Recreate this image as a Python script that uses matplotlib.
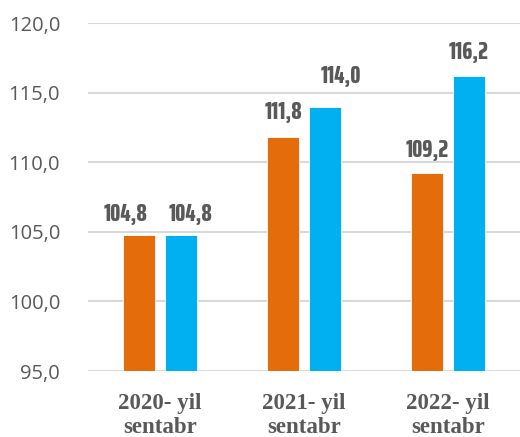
import matplotlib
matplotlib.use("Agg")
import matplotlib.pyplot as plt
from matplotlib import font_manager as fm
import numpy as np

categories = ["2020- yil\nsentabr", "2021- yil\nsentabr", "2022- yil\nsentabr"]
series_a = [104.8, 111.8, 109.2]
series_b = [104.8, 114.0, 116.2]
yticks = [95.0, 100.0, 105.0, 110.0, 115.0, 120.0]

# label placement (pixel offsets from bar top centre), as in the reference
label_dx_a = [-14, 0, 0]
label_dy_a = [14, 18, 16]
label_dx_b = [10, 16, 0]
label_dy_b = [14, 24, 17]


def find_condensed_bold():
    cands = []
    for f in fm.fontManager.ttflist:
        fn = f.fname.lower()
        nm = f.name.lower()
        narrow = ("condensed" in fn or "narrow" in fn or "condensed" in nm or "narrow" in nm
                  or f.stretch in ("condensed", "semi-condensed", "extra-condensed", "ultra-condensed"))
        w = f.weight if isinstance(f.weight, int) else (700 if "bold" in str(f.weight) else 400)
        if narrow and w >= 600 and "oblique" not in fn and "italic" not in fn:
            score = 0
            if "extra" in fn or "ultra" in fn:
                score += 1
            if "semi" in fn:
                score -= 1
            if "liberation" in fn:
                score += 3
            cands.append((score, f.fname))
    if cands:
        cands.sort(reverse=True)
        return fm.FontProperties(fname=cands[0][1]), True
    return fm.FontProperties(family="Roboto", weight="bold"), False


lab_fp, found = find_condensed_bold()
lab_fp.set_size(18.5 if found else 13.5)

fig = plt.figure(figsize=(5.2, 4.37), dpi=100)
ax = fig.add_axes([0.169, 0.151, 0.831, 0.796])

x = np.arange(len(categories))
off = 0.1435
w = 0.222
c_a = "#E46C0A"
c_b = "#00B0F0"
ba = ax.bar(x - off, series_a, w, bottom=0, color=c_a, edgecolor="white", linewidth=0.6, zorder=3)
bb = ax.bar(x + off, series_b, w, bottom=0, color=c_b, edgecolor="white", linewidth=0.6, zorder=3)

for bars, vals, dxs, dys in ((ba, series_a, label_dx_a, label_dy_a),
                             (bb, series_b, label_dx_b, label_dy_b)):
    for r, v, dx, dy in zip(bars, vals, dxs, dys):
        ax.annotate(f"{v:.1f}".replace(".", ","), (r.get_x() + r.get_width() / 2, v),
                    xytext=(dx, dy), textcoords="offset pixels", ha="center", va="baseline",
                    fontproperties=lab_fp, color="#595959",
                    annotation_clip=False, zorder=5)

ax.set_xlim(-0.5, 2.5)
ax.set_ylim(95, 120)
ax.set_yticks(yticks)
ax.set_yticklabels([f"{t:.1f}".replace(".", ",") for t in yticks], fontsize=14.5,
                   family="Open Sans", color="#595959")
ax.set_xticks(x)
ax.set_xticklabels(categories, fontsize=16.5, family="Liberation Serif", fontweight="bold",
                   color="#595959", linespacing=1.2)
ax.tick_params(axis="both", length=0)
ax.tick_params(axis="y", pad=20)
ax.tick_params(axis="x", pad=16)
ax.grid(axis="y", color="#D9D9D9", linewidth=1.5, zorder=0)
for s in ax.spines.values():
    s.set_visible(False)

fig.savefig("out.png", dpi=100)
